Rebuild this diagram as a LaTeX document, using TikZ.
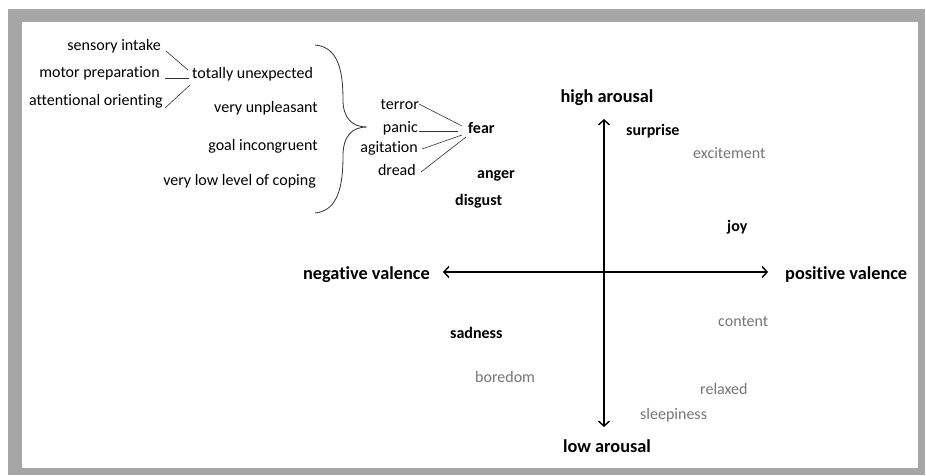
\documentclass[tikz,border=0pt]{standalone}
\usepackage{fontspec}
\setmainfont{Carlito}[Ligatures=NoCommon]
\usetikzlibrary{arrows.meta}
\definecolor{rahmen}{RGB}{166,166,166}
\definecolor{blass}{RGB}{118,118,118}
\newcommand{\emo}[1]{\textbf{#1}}
\tikzset{
  txt/.style={inner sep=0pt,font=\fontsize{16}{19}\selectfont},
  gross/.style={inner sep=0pt,font=\fontsize{18.3}{21}\selectfont\bfseries},
  mild/.style={txt,text=blass},
  fil/.style={draw=black!80,line width=0.6pt},
  axe/.style={line width=1.4pt,{Straight Barb[length=5pt,width=11pt]}-{Straight Barb[length=5pt,width=11pt]}}
}

\begin{document}
\begin{tikzpicture}[x=1pt,y=-1pt]
\useasboundingbox (0,0) rectangle (926,475);
% cadre
\fill[rahmen] (8,9) rectangle (925,475);
\fill[white] (22,22) rectangle (918,468);

% appraisal
\node[txt,anchor=base east] (sens) at (161,50) {sensory intake};
\node[txt,anchor=base east] (mot)  at (160,77) {motor preparation};
\node[txt,anchor=base east] (att)  at (163,105) {attentional orienting};
\node[txt,anchor=base west] (unex) at (192,78) {totally unexpected};
\node[txt,anchor=base east] (unpl) at (318,112) {very unpleasant};
\node[txt,anchor=base east] (goal) at (318,150) {goal incongruent};
\node[txt,anchor=base east] (cop)  at (316,185) {very low level of coping};
\draw[fil] ([xshift=5pt,yshift=-1pt]sens.base east) -- ([xshift=-4pt,yshift=8pt]unex.base west);
\draw[fil] ([xshift=5pt,yshift=-1pt]mot.base east) -- ([xshift=-3pt]unex.base west);
\draw[fil] ([xshift=2pt,yshift=-3pt]att.base east) -- ([xshift=-2pt,yshift=-7pt]unex.base west);
% accolade
\draw[fil,line width=0.8pt] (315,45) .. controls (338,47) and (343,70) .. (343,100)
   .. controls (343,118) and (352,127) .. (367,127)
   .. controls (352,127) and (343,136) .. (343,156)
   .. controls (343,186) and (338,211) .. (315,213);

% fear
\node[txt,anchor=base east] (terr) at (419,109) {terror};
\node[txt,anchor=base east] (pan)  at (418,132) {panic};
\node[txt,anchor=base east] (agi)  at (418,152) {agitation};
\node[txt,anchor=base east] (dre)  at (416,175) {dread};
\node[txt,anchor=base west] (fear) at (468,133) {\emo{fear}};
\draw[fil] ([yshift=5pt]terr.base east) -- ([xshift=-6pt,yshift=7pt]fear.base west);
\draw[fil] ([xshift=1pt,yshift=1pt]pan.base east) -- ([xshift=-10pt,yshift=2pt]fear.base west);
\draw[fil] ([xshift=4pt,yshift=3pt]agi.base east) -- ([xshift=-6pt,yshift=-2pt]fear.base west);
\draw[fil] ([xshift=5pt,yshift=3pt]dre.base east) -- ([xshift=-2pt,yshift=-4pt]fear.base west);

\node[txt,anchor=base west] (ang) at (477,178) {\emo{anger}};
\node[txt,anchor=base west] (dis) at (455,205) {\emo{disgust}};

% axes
\node[gross,anchor=base] (high) at (607,102) {high arousal};
\node[gross,anchor=base] (low)  at (607,452) {low arousal};
\node[gross,anchor=base east] (neg) at (430,279) {negative valence};
\node[gross,anchor=base west] (pos) at (785,279) {positive valence};
\coordinate (hb) at (604,119);
\coordinate (lb) at (604,427);
\coordinate (nb) at (443,272);
\coordinate (pb) at (768,272);
\draw[axe] (nb) -- (pb);
\draw[axe] (lb) -- (hb);

% emotions
\node[txt,anchor=base west] (sur) at (626,135) {\emo{surprise}};
\node[mild,anchor=base west] (exc) at (693,158) {excitement};
\node[txt,anchor=base west] (joy) at (727,231) {\emo{joy}};
\node[mild,anchor=base west] (con) at (718,326) {content};
\node[txt,anchor=base west] (sad) at (450,338) {\emo{sadness}};
\node[mild,anchor=base west] (bor) at (475,382) {boredom};
\node[mild,anchor=base west] (rel) at (700,394) {relaxed};
\node[mild,anchor=base west] (sle) at (640,419) {sleepiness};
\end{tikzpicture}
\end{document}
